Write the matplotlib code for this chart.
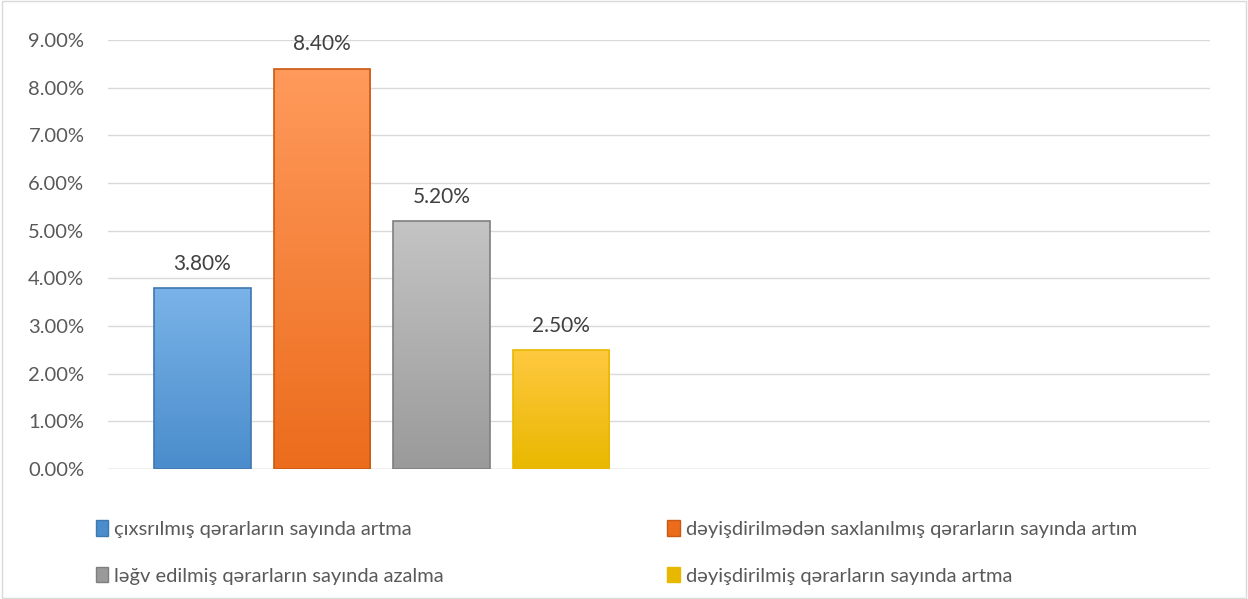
import numpy as np
import matplotlib.pyplot as plt
from matplotlib.colors import LinearSegmentedColormap
from matplotlib.patches import Rectangle
from matplotlib.ticker import FuncFormatter

plt.rcParams['font.family'] = ['Lato', 'DejaVu Sans']

labels = ["çıxsrılmış qərarların sayında artma",
          "dəyişdirilmədən saxlanılmış qərarların sayında artım",
          "ləğv edilmiş qərarların sayında azalma",
          "dəyişdirilmiş qərarların sayında artma"]
values = [3.8, 8.4, 5.2, 2.5]
# gradient top -> bottom, plus edge colour
tops = ["#7ab3e8", "#ff9a5c", "#c4c4c4", "#ffc940"]
bottoms = ["#4a8ccc", "#ec6c1c", "#9a9a9a", "#e8b800"]
edges = ["#3f78b0", "#c85a14", "#7f7f7f", "#e8b800"]

fig = plt.figure(figsize=(12.48, 5.99), dpi=100)
ax = fig.add_axes([108/1248, 1 - 469/599, (1210 - 108)/1248, (469 - 40)/599])

x = np.arange(len(values))
width = 0.81
bars = ax.bar(x, values, width=width, color="none", edgecolor="none", zorder=3)

grad = np.linspace(1, 0, 256).reshape(-1, 1)
for b, top, bot, ec, v in zip(bars, tops, bottoms, edges, values):
    cmap = LinearSegmentedColormap.from_list("g", [bot, top])
    x0, y0 = b.get_x(), b.get_y()
    w, h = b.get_width(), b.get_height()
    im = ax.imshow(grad, cmap=cmap, aspect="auto", extent=[x0, x0 + w, y0, y0 + h],
                   zorder=3, origin="upper")
    im.set_clip_path(b)
    ax.add_patch(Rectangle((x0, y0), w, h, fill=False, edgecolor=ec, lw=1.2, zorder=4))
    ax.text(x0 + w / 2, v + 0.3, f"{v:.2f}%", ha="center", va="bottom",
            fontsize=15, color="#404040", zorder=5)

ax.set_xlim(-0.79, 8.43)
ax.set_ylim(0, 9)
ax.set_yticks(np.arange(0, 10, 1))
ax.yaxis.set_major_formatter(FuncFormatter(lambda v, p: f"{v:.2f}%"))
ax.tick_params(axis="y", length=0, labelsize=14.5, labelcolor="#595959", pad=17)
ax.set_xticks([])
ax.grid(axis="y", color="#d9d9d9", lw=1, zorder=0)
for s in ax.spines.values():
    s.set_visible(False)
ax.axhline(0, color="#d9d9d9", lw=1, zorder=1)

handles = [Rectangle((0, 0), 1, 1, facecolor=bottoms[i], edgecolor=edges[i]) for i in [0, 2, 1, 3]]
hl = [labels[i] for i in [0, 2, 1, 3]]
fig.legend(handles, hl, ncol=2, loc="upper left", bbox_to_anchor=(78/1248, 1 - 502/599),
           frameon=False, fontsize=14.5, labelcolor="#595959", handlelength=0.6,
           handleheight=0.8, handletextpad=0.3, columnspacing=11.1, labelspacing=1.45)

fig.patches.append(Rectangle((0.002, 0.002), 0.996, 0.996, transform=fig.transFigure,
                             fill=False, edgecolor="#d9d9d9", lw=1))

fig.savefig("out.png", dpi=100)
